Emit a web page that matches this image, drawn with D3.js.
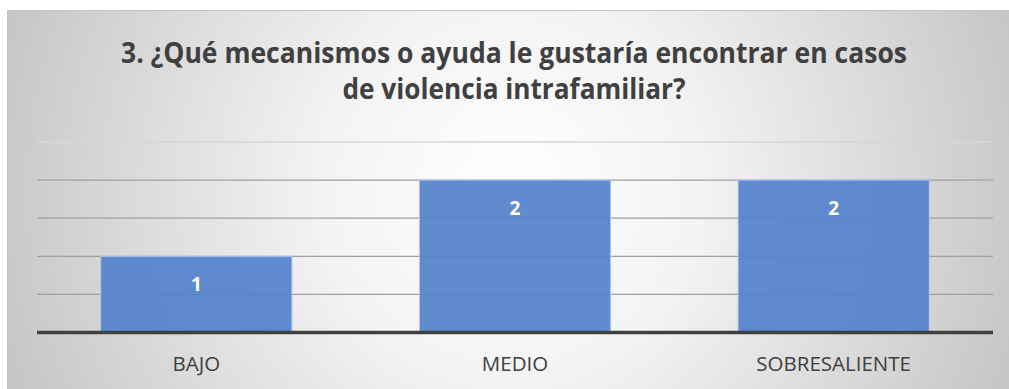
<!DOCTYPE html>
<html>
<head>
<meta charset="utf-8">
<script src="https://cdn.jsdelivr.net/npm/d3@7"></script>
<style>
  html, body { margin: 0; padding: 0; background: #ffffff; }
  svg { display: block; }
</style>
</head>
<body>
<svg id="chart" width="1009" height="389"></svg>
<script>
// Survey question 3: responses per level
const titleLines = [
  "3. ¿Qué mecanismos o ayuda le gustaría encontrar en casos",
  "de violencia intrafamiliar?"
];
const categories = ["BAJO", "MEDIO", "SOBRESALIENTE"];
const values = [1, 2, 2];
const gridTicks = [0.5, 1, 1.5, 2, 2.5];

const svg = d3.select("#chart");
const W = 1009, H = 389;

// Frame with a soft radial background
const defs = svg.append("defs");
const grad = defs.append("radialGradient")
  .attr("id", "bg")
  .attr("gradientUnits", "userSpaceOnUse")
  .attr("cx", 510).attr("cy", 190).attr("r", 545);
grad.append("stop").attr("offset", "0").attr("stop-color", "#ffffff");
grad.append("stop").attr("offset", "0.35").attr("stop-color", "#f3f3f3");
grad.append("stop").attr("offset", "1").attr("stop-color", "#c4c4c4");

svg.append("rect")
  .attr("x", 7.5).attr("y", 10.5)
  .attr("width", W - 7).attr("height", H - 10)
  .attr("fill", "url(#bg)")
  .attr("stroke", "#c3c3c3").attr("stroke-width", 1);

// Title
const title = svg.append("g")
  .attr("font-family", "'Open Sans', 'DejaVu Sans', sans-serif")
  .attr("font-weight", 700)
  .attr("font-size", 28)
  .attr("fill", "#404040")
  .attr("text-anchor", "middle");
const titleWidths = [786, 343];
titleLines.forEach((t, i) => {
  title.append("text")
    .attr("x", 514)
    .attr("y", 62.5 + i * 36)
    .attr("textLength", titleWidths[i])
    .attr("lengthAdjust", "spacingAndGlyphs")
    .text(t);
});

// Scales
const plot = { left: 37, right: 993, top: 142, bottom: 332.5 };
const x = d3.scaleBand()
  .domain(categories)
  .range([plot.left, plot.right])
  .paddingInner(0.4)
  .paddingOuter(0.2);
const y = d3.scaleLinear()
  .domain([0, 2.5])
  .range([plot.bottom, plot.top]);

// Horizontal gridlines
svg.append("g")
  .selectAll("line")
  .data(gridTicks)
  .join("line")
  .attr("x1", plot.left).attr("x2", plot.right)
  .attr("y1", d => y(d)).attr("y2", d => y(d))
  .attr("stroke", d => d === 2.5 ? "#d6d6d6" : "#a0a0a0")
  .attr("stroke-width", 1.3);

// Bars
svg.append("g")
  .selectAll("rect")
  .data(values)
  .join("rect")
  .attr("x", (d, i) => x(categories[i]))
  .attr("y", d => y(d))
  .attr("width", x.bandwidth())
  .attr("height", d => y(0) - y(d))
  .attr("fill", "#5282cb")
  .attr("fill-opacity", 0.92)
  .attr("stroke", "#b4c8ea")
  .attr("stroke-width", 1);

// Value labels inside the bar tops
svg.append("g")
  .attr("font-family", "'Open Sans', 'DejaVu Sans', sans-serif")
  .attr("font-weight", 700)
  .attr("font-size", 19)
  .attr("fill", "#ffffff")
  .attr("text-anchor", "middle")
  .selectAll("text")
  .data(values)
  .join("text")
  .attr("x", (d, i) => x(categories[i]) + x.bandwidth() / 2)
  .attr("y", d => y(d) + 35)
  .text(d => d);

// Category axis
const xAxis = svg.append("g")
  .attr("transform", `translate(0,${plot.bottom})`)
  .call(d3.axisBottom(x).tickSize(0).tickPadding(0));
xAxis.select(".domain")
  .attr("d", `M${plot.left},0H${plot.right}`)
  .attr("stroke", "#404040")
  .attr("stroke-width", 3.6);
xAxis.selectAll(".tick text")
  .attr("y", 38.5)
  .attr("dy", 0)
  .attr("font-family", "'Open Sans', 'DejaVu Sans', sans-serif")
  .attr("font-size", 20.5)
  .attr("fill", "#404040");
</script>
</body>
</html>
